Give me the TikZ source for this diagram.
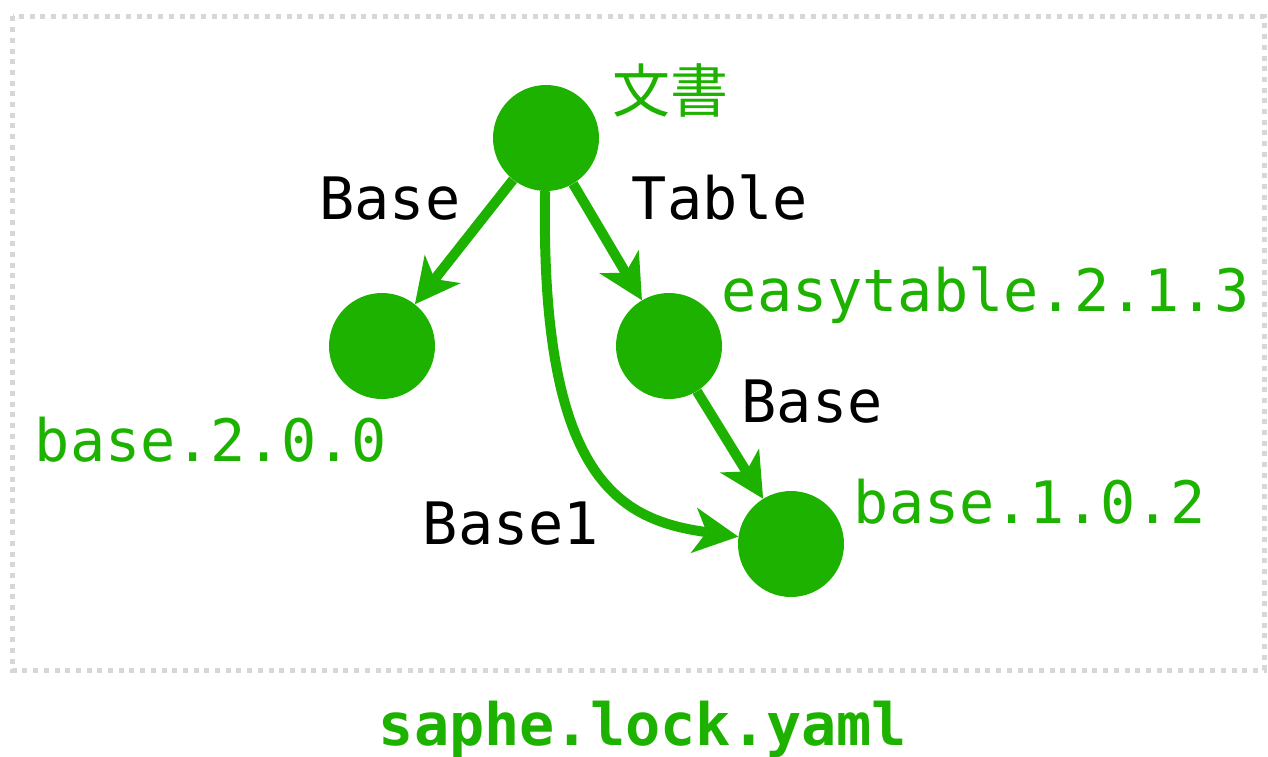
\documentclass[tikz,border=0pt]{standalone}
\usepackage{fontspec}
\setmonofont{DejaVu Sans Mono}
\newfontfamily\cjkfont{Noto Sans CJK JP}
\usetikzlibrary{arrows.meta}

\definecolor{leaf}{RGB}{30,178,0}
\definecolor{framegray}{RGB}{215,215,215}

\tikzset{
  pkg/.style={circle, fill=leaf, draw=none, minimum size=106pt, inner sep=0pt},
  dep/.style={draw=leaf, line width=10pt,
    -{Stealth[length=45pt, width=46pt, inset=13pt, line width=0pt]}},
  edgelabel/.style={font=\fontsize{58.5}{60}\selectfont\ttfamily, text=black, anchor=base, inner sep=0pt},
  pkglabel/.style={font=\fontsize{58.5}{60}\selectfont\ttfamily, text=leaf, anchor=base, inner sep=0pt},
}

\begin{document}
\begin{tikzpicture}[x=1pt, y=-1pt]
  \useasboundingbox (0,0) rectangle (1268,757);

  % dotted frame around the dependency graph
  \draw[framegray, line width=5pt, dash pattern=on 5pt off 5.7pt]
    (12.5,16.5) rectangle (1264,670);

  % packages
  \node[pkg] (doc)  at (546,138) {};
  \node[pkg] (b200) at (382,346) {};
  \node[pkg] (et)   at (669,346) {};
  \node[pkg] (b102) at (791,544) {};

  % dependencies
  \draw[dep] (doc) -- (b200);
  \draw[dep] (doc) -- (et);
  \draw[dep] (et) -- (b102);
  \draw[dep] (doc) .. controls (540,480) and (620,520) .. (b102);

  % package names
  \node[pkglabel, font=\fontsize{58}{60}\selectfont\cjkfont] (ldoc) at (670,113) {文書};
  \node[pkglabel] (lb200) at (211,461) {base.2.0.0};
  \node[pkglabel] (let)   at (986,311) {easytable.2.1.3};
  \node[pkglabel] (lb102) at (1030,523) {base.1.0.2};

  % dependency names
  \node[edgelabel] (e1) at (390,219) {Base};
  \node[edgelabel] (e2) at (720,219) {Table};
  \node[edgelabel] (e3) at (812,422) {Base};
  \node[edgelabel] (e4) at (511,544) {Base1};

  % file name
  \node[pkglabel, font=\fontsize{58.5}{60}\selectfont\ttfamily\bfseries] (file) at (643,745) {saphe.lock.yaml};
\end{tikzpicture}
\end{document}
